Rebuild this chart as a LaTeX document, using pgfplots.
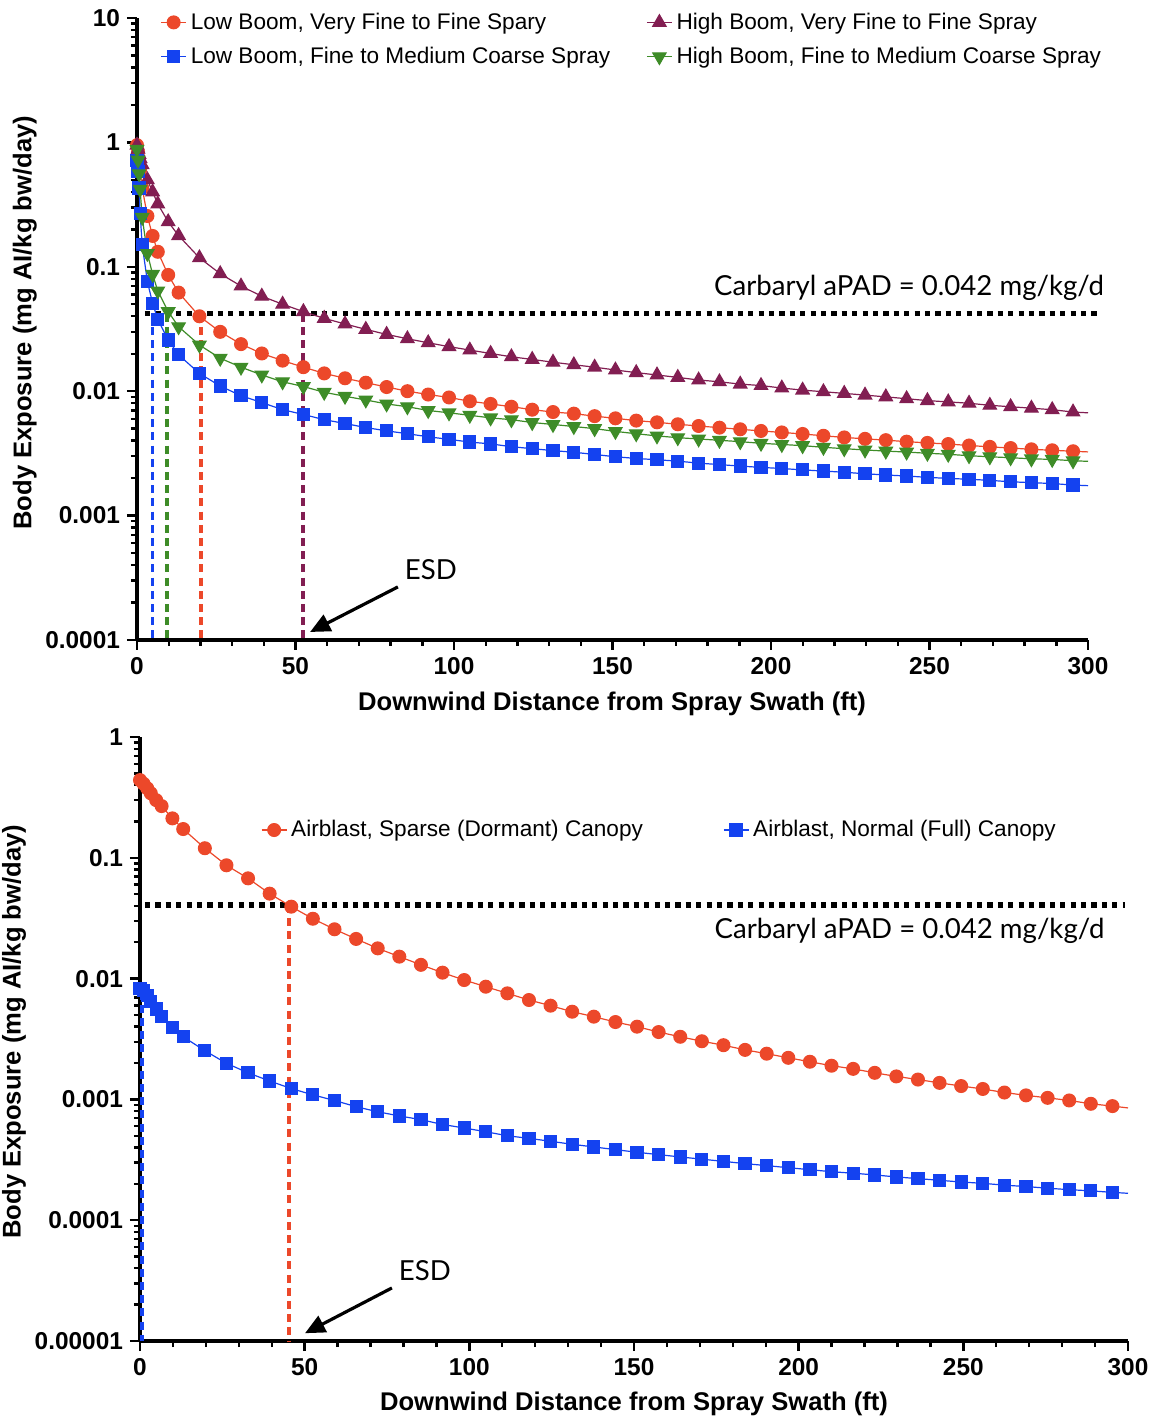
\documentclass[border=0pt]{standalone}
\usepackage{fontspec}
\setmainfont{Liberation Sans}
\newfontfamily\annfont{Lato}
\usepackage{pgfplots}
\usepackage{pgfplotstable}
\pgfplotsset{compat=1.18}
\usetikzlibrary{arrows.meta}

\definecolor{cred}{RGB}{236,72,42}
\definecolor{cblue}{RGB}{20,66,240}
\definecolor{cgreen}{RGB}{62,140,40}
\definecolor{cpurp}{RGB}{130,30,82}

% drift exposure, ground boom (top)
\pgfplotstableread{
x      lvf      hvf     lfm      hfm
0      0.95     0.95    0.72     0.88
0.33   0.84     0.88    0.58     0.72
0.66   0.72     0.80    0.43     0.56
0.98   0.60     0.74    0.27     0.42
1.64   0.43     0.66    0.15     0.25
3.28   0.256    0.50    0.076    0.128
4.92   0.177    0.40    0.051    0.087
6.56   0.132    0.32    0.0378   0.064
9.84   0.086    0.23    0.0258   0.0436
13.12  0.062    0.178   0.0196   0.033
19.69  0.040    0.118   0.0139   0.0235
26.25  0.030    0.088   0.0110   0.0184
32.81  0.0239   0.070   0.0092   0.0156
39.37  0.0201   0.058   0.0081   0.0135
45.93  0.0176   0.050   0.0071   0.0119
52.49  0.0156   0.0436  0.0065   0.0109
59.06  0.0139   0.0385  0.0059   0.0098
65.62  0.0127   0.0347  0.0055   0.0091
72.18  0.0117   0.0314  0.0051   0.0085
78.74  0.0108   0.0286  0.0048   0.0079
85.30  0.0100   0.0264  0.00455  0.0075
91.86  0.0094   0.0245  0.0043   0.0070
98.43  0.0089   0.0228  0.0041   0.0067
104.99 0.0083   0.0214  0.0039   0.0064
111.55 0.0079   0.0201  0.00377  0.0061
118.11 0.0075   0.0189  0.00358  0.0059
124.67 0.0071   0.0180  0.00345  0.0056
131.23 0.0068   0.0171  0.00333  0.0054
137.80 0.0066   0.0163  0.00323  0.0052
144.36 0.0063   0.0156  0.00310  0.0050
150.92 0.00605  0.0148  0.00297  0.00475
157.48 0.00580  0.0141  0.00288  0.00455
164.04 0.00562  0.0135  0.00281  0.00437
170.60 0.00542  0.0129  0.00274  0.00423
177.17 0.00525  0.0123  0.00264  0.00413
183.73 0.00509  0.0119  0.00257  0.00403
190.29 0.00494  0.0114  0.00250  0.00393
196.85 0.00479  0.0111  0.00244  0.00381
203.41 0.00466  0.0106  0.00239  0.00373
209.97 0.00453  0.0102  0.00233  0.00365
216.54 0.00438  0.0099  0.00228  0.00354
223.10 0.00425  0.0096  0.00223  0.00345
229.66 0.00414  0.0093  0.00217  0.00337
236.22 0.00404  0.0090  0.00212  0.00330
242.78 0.00393  0.0087  0.00208  0.00324
249.34 0.00384  0.0084  0.00203  0.00317
255.91 0.00376  0.0082  0.00199  0.00311
262.47 0.00366  0.0080  0.00196  0.00303
269.03 0.00357  0.0077  0.00192  0.00297
275.59 0.00349  0.0075  0.00187  0.00292
282.15 0.00341  0.0073  0.00184  0.00286
288.71 0.00335  0.0071  0.00181  0.00283
295.28 0.00329  0.0068  0.00176  0.00276
}\boomdata

% airblast (bottom)
\pgfplotstableread{
x      sparse    full
0      0.44      0.0083
1.09   0.41      0.0080
2.19   0.376     0.0073
3.28   0.342     0.0065
4.92   0.30      0.0056
6.56   0.268     0.00484
9.84   0.212     0.00395
13.12  0.173     0.00330
19.69  0.120     0.00253
26.25  0.0867    0.00199
32.81  0.0676    0.00166
39.37  0.0505    0.00142
45.93  0.0394    0.00123
52.49  0.0313    0.00109
59.06  0.0256    0.00098
65.62  0.0213    0.00087
72.18  0.0178    0.00079
78.74  0.0152    0.00073
85.30  0.0130    0.00068
91.86  0.0112    0.00062
98.43  0.00973   0.00058
104.99 0.00857   0.00054
111.55 0.00755   0.00050
118.11 0.00665   0.000476
124.67 0.00597   0.000450
131.23 0.00532   0.000425
137.80 0.00484   0.000404
144.36 0.00437   0.000384
150.92 0.00400   0.000365
157.48 0.00361   0.000349
164.04 0.00330   0.000334
170.60 0.00303   0.000320
177.17 0.00281   0.000307
183.73 0.00257   0.000294
190.29 0.00239   0.000283
196.85 0.00221   0.000272
203.41 0.00205   0.000262
209.97 0.00190   0.000252
216.54 0.00179   0.000245
223.10 0.00166   0.000237
229.66 0.00155   0.000228
236.22 0.00146   0.000221
242.78 0.00137   0.000214
249.34 0.00129   0.000207
255.91 0.00122   0.000202
262.47 0.00114   0.000195
269.03 0.00108   0.000190
275.59 0.00103   0.000184
282.15 0.00098   0.000179
288.71 0.00092   0.000175
295.28 0.00088   0.000170
}\airdata

\pgfplotsset{
  every axis/.append style={
    scale only axis, anchor=south west,
    xmin=0, xmax=300,
    axis x line*=bottom, axis y line*=left, clip=false,
    axis line style={line width=1.8pt},
    tick style={black, line width=1.2pt},
    major tick length=5pt, minor tick length=3pt,
    tick align=outside,
    xtick={0,50,...,300}, xticklabels={0,50,100,150,200,250,300},
    minor xtick={10,20,...,290},
    ticklabel style={font=\bfseries\fontsize{12.2}{14}\selectfont},
    label style={font=\bfseries\fontsize{12.8}{15}\selectfont},
    legend columns=2,
    legend cell align=left,
    legend style={draw=none, fill=none, font=\fontsize{11.3}{13}\selectfont},
    legend image code/.code={\draw[mark repeat=2,mark phase=2,#1]
      plot coordinates {(0cm,0cm)(0.22cm,0cm)(0.44cm,0cm)};},
  },
}
\tikzset{
  esd/.style={#1, line width=1.8pt, dash pattern=on 4pt off 2.6pt},
  apad/.style={black, line width=2.6pt, dash pattern=on 2.6pt off 2.6pt},
  ann/.style={font=\annfont\fontsize{13.8}{16}\selectfont},
}

\begin{document}
\begin{tikzpicture}
\useasboundingbox (0,0) rectangle (576pt,711pt);

% ---------------- top: boom sprays ----------------
\begin{axis}[
  ymode=log,
  at={(68.5pt,391pt)}, width=475.5pt, height=311pt,
  ymin=1e-4, ymax=10,
  ytick={1e-4,1e-3,1e-2,1e-1,1,10},
  yticklabels={0.0001,0.001,0.01,0.1,1,10},
  minor ytick={2e-4,3e-4,4e-4,5e-4,6e-4,7e-4,8e-4,9e-4,2e-3,3e-3,4e-3,5e-3,6e-3,7e-3,8e-3,9e-3,
    0.02,0.03,0.04,0.05,0.06,0.07,0.08,0.09,0.2,0.3,0.4,0.5,0.6,0.7,0.8,0.9,2,3,4,5,6,7,8,9},
  xlabel={Downwind Distance from Spray Swath (ft)},
  ylabel={Body Exposure (mg AI/kg bw/day)},
  xlabel style={at={(axis description cs:0.4995,-0.103)}, anchor=center},
  ylabel style={at={(axis description cs:-0.118,0.51)}, anchor=center},
  legend style={at={(axis description cs:0.018,1.022)}, anchor=north west,
    /tikz/every even column/.append style={column sep=16pt}, row sep=3.5pt},
]
\addplot[apad, forget plot] coordinates {(2.5,0.042) (303.8,0.042)};
\addplot[esd=cblue, forget plot]  coordinates {(4.9,0.042) (4.9,1e-4)};
\addplot[esd=cgreen, forget plot] coordinates {(9.4,0.042) (9.4,1e-4)};
\addplot[esd=cred, forget plot]   coordinates {(20.1,0.042) (20.1,1e-4)};
\addplot[esd=cpurp, forget plot]  coordinates {(52.3,0.042) (52.3,1e-4)};

\addplot[cred, line width=0.6pt, mark=*, mark size=3.2pt, mark options={solid, fill=cred}] table[x=x, y=lvf] {\boomdata};
\addlegendentry{Low Boom, Very Fine to Fine Spary}
\addplot[cpurp, line width=0.6pt, mark=triangle*, mark size=3.8pt, mark options={solid, fill=cpurp}] table[x=x, y=hvf] {\boomdata};
\addlegendentry{High Boom, Very Fine to Fine Spray}
\addplot[cblue, line width=0.6pt, mark=square*, mark size=3pt, mark options={solid, fill=cblue}] table[x=x, y=lfm] {\boomdata};
\addlegendentry{Low Boom, Fine to Medium Coarse Spray}
\addplot[cgreen, line width=0.6pt, mark=triangle*, mark size=3.8pt, mark options={solid, fill=cgreen, rotate=180}] table[x=x, y=hfm] {\boomdata};
\addlegendentry{High Boom, Fine to Medium Coarse Spray}

\addplot[cred, line width=0.6pt, forget plot] coordinates {(295.28,0.00329) (300,0.00325)};
\addplot[cpurp, line width=0.6pt, forget plot] coordinates {(295.28,0.0068) (300,0.0067)};
\addplot[cblue, line width=0.6pt, forget plot] coordinates {(295.28,0.00176) (300,0.00174)};
\addplot[cgreen, line width=0.6pt, forget plot] coordinates {(295.28,0.00276) (300,0.00273)};

\node[ann, anchor=east] at (axis cs:307.3,0.0676) {Carbaryl aPAD = 0.042 mg/kg/d};
\node[ann] at (axis cs:92.7,3.66e-4) {ESD};
\draw[-{Triangle[length=10pt,width=9pt]}, line width=1.6pt] (axis cs:82.3,2.67e-4) -- (axis cs:54.6,1.16e-4);
\end{axis}

% ---------------- bottom: airblast ----------------
\begin{axis}[
  ymode=log,
  at={(70pt,40.5pt)}, width=494pt, height=302pt,
  ymin=1e-5, ymax=1,
  ytick={1e-5,1e-4,1e-3,1e-2,1e-1,1},
  yticklabels={0.00001,0.0001,0.001,0.01,0.1,1},
  minor ytick={2e-5,3e-5,4e-5,5e-5,6e-5,7e-5,8e-5,9e-5,2e-4,3e-4,4e-4,5e-4,6e-4,7e-4,8e-4,9e-4,
    2e-3,3e-3,4e-3,5e-3,6e-3,7e-3,8e-3,9e-3,0.02,0.03,0.04,0.05,0.06,0.07,0.08,0.09,0.2,0.3,0.4,0.5,0.6,0.7,0.8,0.9},
  xlabel={Downwind Distance from Spray Swath (ft)},
  ylabel={Body Exposure (mg AI/kg bw/day)},
  xlabel style={at={(axis description cs:0.5,-0.104)}, anchor=center},
  ylabel style={at={(axis description cs:-0.1275,0.512)}, anchor=center},
  legend style={at={(axis description cs:0.116,0.846)}, anchor=west,
    /tikz/every even column/.append style={column sep=38pt}},
]
\addplot[apad, forget plot] coordinates {(1.5,0.0407) (299,0.0407)};
\addplot[esd=cblue, forget plot] coordinates {(0.6,0.0078) (0.6,1e-5)};
\addplot[esd=cred, forget plot]  coordinates {(45.2,0.0407) (45.2,1e-5)};

\addplot[cred, line width=0.6pt, mark=*, mark size=3.2pt, mark options={solid, fill=cred}] table[x=x, y=sparse] {\airdata};
\addlegendentry{Airblast, Sparse (Dormant) Canopy}
\addplot[cblue, line width=0.6pt, mark=square*, mark size=3pt, mark options={solid, fill=cblue}] table[x=x, y=full] {\airdata};
\addlegendentry{Airblast, Normal (Full) Canopy}

\addplot[cred, line width=0.6pt, forget plot] coordinates {(295.28,0.00088) (300,0.00085)};
\addplot[cblue, line width=0.6pt, forget plot] coordinates {(295.28,0.000170) (300,0.000167)};

\node[ann, anchor=east] at (axis cs:295,0.0248) {Carbaryl aPAD = 0.042 mg/kg/d};
\node[ann] at (axis cs:86.5,3.8e-5) {ESD};
\draw[-{Triangle[length=10pt,width=9pt]}, line width=1.6pt] (axis cs:76.5,2.75e-5) -- (axis cs:50.1,1.16e-5);
\end{axis}
\end{tikzpicture}
\end{document}
